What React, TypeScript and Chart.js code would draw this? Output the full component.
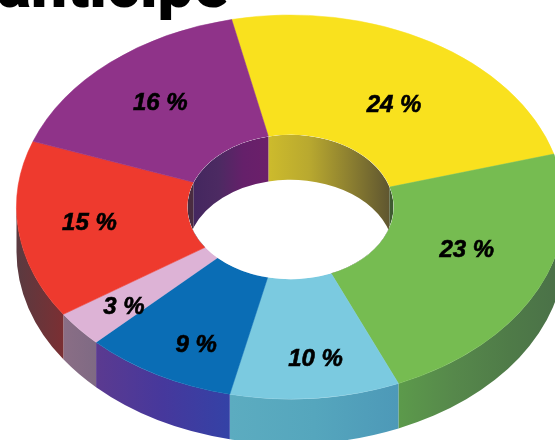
import { useEffect, useRef } from "react";
import { Chart, registerables, Plugin } from "chart.js";

Chart.register(...registerables);

const categories = ["Jaune", "Vert", "Bleu clair", "Bleu", "Rose", "Rouge", "Violet"];
const values = [24, 23, 10, 9, 3, 15, 16];
const topColors = ["#F9E11E", "#76BC51", "#7BCAE0", "#0A6DB5", "#DDB3D6", "#EE3A2E", "#8F3389"];
const wallStops = [
  ["#6B5F2E"],
  ["#5C9A4B", "#56884B", "#4F7B48", "#4A7048"],
  ["#5CACC0", "#55A6BD", "#4D99B8"],
  ["#5B3A90", "#46389C", "#3442A6"],
  ["#8A6E85", "#7F6A84"],
  ["#5A3A40", "#7B2F33"],
  ["#4A2A5A"],
];
const innerStops: Record<number, string[]> = {
  0: ["#CDBB2C", "#B9A92F", "#8D8030", "#5F5630"],
  1: ["#3E5A30", "#3E5A30"],
  5: ["#4A2C40", "#4A2C40"],
  6: ["#44275F", "#4C2A62", "#65206A", "#6C1F6A"],
};
const labelText = values.map((v) => `${v} %`);
const labelNudge = [
  [7, 12],
  [6, -13],
  [8, 21],
  [-3, 23],
  [-21, 17],
  [-14, 0],
  [-6, -4],
];

const centerX = 290.5;
const centerY = 207;
const radiusX = 274;
const radiusY = 192;
const depth = 45;

function hGradient(ctx: CanvasRenderingContext2D, x0: number, x1: number, stops: string[]) {
  const g = ctx.createLinearGradient(x0, 0, x1, 0);
  const n = Math.max(stops.length - 1, 1);
  stops.forEach((c, i) => g.addColorStop(i / n, c));
  if (stops.length === 1) g.addColorStop(1, stops[0]);
  return g;
}

const pie3d: Plugin<"doughnut"> = {
  id: "pie3d",
  beforeDatasetsDraw(chart) {
    const ctx = chart.ctx;
    const arcs = chart.getDatasetMeta(0).data as any[];
    const first = arcs[0];
    const sx = radiusX / first.outerRadius;
    const sy = radiusY / first.outerRadius;
    // outer side walls, lower half only
    ctx.save();
    arcs.forEach((a, i) => {
      const norm = (t: number) => Math.atan2(Math.sin(t), Math.cos(t));
      let s = norm(a.startAngle);
      let e = norm(a.endAngle);
      if (e < s) e += Math.PI * 2;
      const from = Math.max(s, 0);
      const to = Math.min(e, Math.PI);
      if (to <= from) return;
      const x0 = centerX + radiusX * Math.cos(to);
      const x1 = centerX + radiusX * Math.cos(from);
      ctx.beginPath();
      ctx.ellipse(centerX, centerY, radiusX, radiusY, 0, from, to);
      ctx.ellipse(centerX, centerY + depth, radiusX, radiusY, 0, to, from, true);
      ctx.closePath();
      ctx.fillStyle = hGradient(ctx, x0, x1, wallStops[i]);
      ctx.fill();
    });
    ctx.restore();
    ctx.save();
    ctx.translate(centerX, centerY);
    ctx.scale(sx, sy);
    ctx.translate(-first.x, -first.y);
  },
  afterDatasetsDraw(chart) {
    const ctx = chart.ctx;
    ctx.restore();
    const arcs = chart.getDatasetMeta(0).data as any[];
    const first = arcs[0];
    const sx = radiusX / first.outerRadius;
    const sy = radiusY / first.outerRadius;
    const irx = first.innerRadius * sx;
    const iry = first.innerRadius * sy;
    // wall of the hole, seen through the top ellipse
    ctx.save();
    ctx.beginPath();
    ctx.ellipse(centerX, centerY, irx, iry, 0, 0, Math.PI * 2);
    ctx.clip();
    ctx.fillStyle = "#ffffff";
    ctx.fillRect(0, 0, 555, 440);
    arcs.forEach((a, i) => {
      const stops = innerStops[i];
      if (!stops) return;
      const x0 = Math.min(centerX + irx * Math.cos(a.startAngle), centerX + irx * Math.cos(a.endAngle));
      const x1 = Math.max(centerX + irx * Math.cos(a.startAngle), centerX + irx * Math.cos(a.endAngle));
      ctx.beginPath();
      ctx.moveTo(centerX + irx * Math.cos(a.startAngle), centerY + iry * Math.sin(a.startAngle));
      ctx.lineTo(centerX + irx * Math.cos(a.startAngle), centerY + depth + iry * Math.sin(a.startAngle));
      ctx.ellipse(centerX, centerY + depth, irx, iry, 0, a.startAngle, a.endAngle);
      ctx.lineTo(centerX + irx * Math.cos(a.endAngle), centerY + iry * Math.sin(a.endAngle));
      ctx.ellipse(centerX, centerY, irx, iry, 0, a.endAngle, a.startAngle, true);
      ctx.closePath();
      ctx.fillStyle = hGradient(ctx, x0, x1, stops);
      ctx.fill();
    });
    ctx.restore();
    // value labels
    ctx.save();
    ctx.fillStyle = "#000000";
    ctx.strokeStyle = "#000000";
    ctx.lineWidth = 0.6;
    ctx.font = 'italic bold 24px "Liberation Sans"';
    ctx.textAlign = "center";
    ctx.textBaseline = "middle";
    arcs.forEach((a, i) => {
      const p = a.getCenterPoint();
      const x = centerX + (p.x - first.x) * sx + labelNudge[i][0];
      const y = centerY + (p.y - first.y) * sy + labelNudge[i][1];
      ctx.fillText(labelText[i], x, y);
      ctx.strokeText(labelText[i], x, y);
    });
    // the word cut off by the top of the picture
    ctx.font = '900 64px "Roboto"';
    ctx.textAlign = "left";
    ctx.textBaseline = "alphabetic";
    ctx.fillText("anticipe", -3, 7);
    ctx.restore();
  },
};

export default function App() {
  const ref = useRef<HTMLCanvasElement>(null);
  useEffect(() => {
    const chart = new Chart(ref.current!, {
      type: "doughnut",
      data: {
        labels: categories,
        datasets: [
          {
            data: values,
            backgroundColor: topColors,
            borderColor: topColors,
            borderWidth: 0.5,
          },
        ],
      },
      options: {
        responsive: false,
        animation: false,
        rotation: -12.4,
        cutout: "37.6%",
        layout: { padding: 0 },
        plugins: { legend: { display: false }, tooltip: { enabled: false } },
      },
      plugins: [pie3d],
    });
    return () => chart.destroy();
  }, []);
  return (
    <div style={{ position: "fixed", left: 0, top: 0, width: 555, height: 440, background: "#fff", overflow: "hidden" }}>
      <canvas ref={ref} width={555} height={440} style={{ display: "block" }} />
    </div>
  );
}
